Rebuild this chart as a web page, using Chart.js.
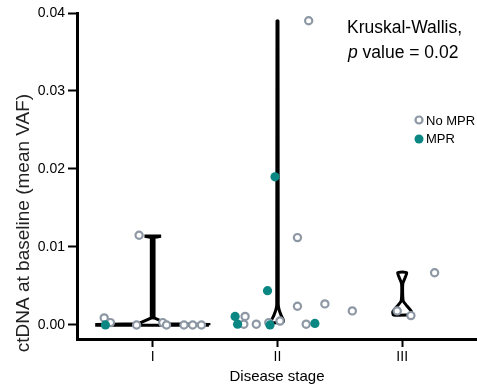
<!DOCTYPE html>
<html>
<head>
<meta charset="utf-8">
<script src="https://cdn.jsdelivr.net/npm/chart.js@4.4.1/dist/chart.umd.min.js"></script>
<style>
  html, body { margin: 0; padding: 0; background: #fff; }
  #wrap { width: 477px; height: 387px; }
</style>
</head>
<body>
<div id="wrap"><canvas id="chart"></canvas></div>
<script>
// categories and tick labels
const stages = ["I", "II", "III"];
const stagePos = [1, 2, 3];
const yTicks = [0, 0.01, 0.02, 0.03, 0.04];

// points: jittered position on the stage axis, mean VAF
const noMprX = [0.61, 0.66, 0.87, 0.89, 1.08, 1.11, 1.25, 1.32, 1.39,
                1.74, 1.73, 1.83, 1.93, 2.02, 2.16, 2.16, 2.23, 2.25, 2.38, 2.60,
                2.96, 3.07, 3.26];
const noMprY = [0.0009, 0.0003, 0.0, 0.0115, 0.0003, 0.0, 0.0, 0.0, 0.0,
                0.0011, 0.0001, 0.0001, 0.0003, 0.0005, 0.0112, 0.0024, 0.0001, 0.039, 0.0027, 0.0018,
                0.0018, 0.0012, 0.0067];
const mprX = [0.62, 1.66, 1.68, 1.92, 1.94, 1.98, 2.30];
const mprY = [0.0, 0.0011, 0.0001, 0.0044, 0.0, 0.019, 0.0002];

// violin outlines: y level and half width (stage units)
const violinY = [
  [-0.00005, 0.00005, 0.00015, 0.0005, 0.0009, 0.0112, 0.01135, 0.0114],
  [0.0003, 0.0006, 0.0012, 0.0020, 0.0027, 0.0390],
  [0.00128, 0.0017, 0.0024, 0.0031, 0.0053, 0.0067]
];
const violinHW = [
  [0.45, 0.45, 0.12, 0.07, 0.012, 0.01, 0.055, 0.055],
  [0.045, 0.048, 0.030, 0.012, 0.006, 0.004],
  [0.070, 0.075, 0.040, 0.008, 0.005, 0.036]
];

const grayCol = "#8d98a4";
const tealCol = "#0a8783";
const fontFam = "'Liberation Sans', Arial, sans-serif";

function toPts(xs, ys) {
  return xs.map((x, i) => ({x: x, y: ys[i]}));
}

function violinOutline(k) {
  const c = stagePos[k], ys = violinY[k], hw = violinHW[k];
  const pts = [];
  for (let i = 0; i < ys.length; i++) pts.push({x: c + hw[i], y: ys[i]});
  for (let i = ys.length - 1; i >= 0; i--) pts.push({x: c - hw[i], y: ys[i]});
  pts.push({x: c + hw[0], y: ys[0]});
  return pts;
}

const violinSets = stagePos.map((p, k) => ({
  label: "violin " + stages[k],
  data: violinOutline(k),
  showLine: true,
  borderColor: "#000",
  borderWidth: 3,
  pointRadius: 0,
  tension: k === 0 ? 0 : 0.2,
  fill: false
}));

// legend, annotation and y title
const extras = {
  id: "extras",
  afterDraw(chart) {
    const ctx = chart.ctx;
    ctx.save();
    ctx.fillStyle = "#000";
    ctx.textBaseline = "middle";
    ctx.textAlign = "left";
    ctx.font = "17.5px " + fontFam;
    ctx.fillText("Kruskal-Wallis,", 347, 28);
    ctx.font = "italic 17.5px " + fontFam;
    ctx.fillText("p", 348, 53);
    const pw = ctx.measureText("p ").width;
    ctx.font = "17.5px " + fontFam;
    ctx.fillText("value = 0.02", 348 + pw, 53);

    // legend
    ctx.font = "13px " + fontFam;
    ctx.beginPath();
    ctx.arc(419, 120, 3.5, 0, Math.PI * 2);
    ctx.fillStyle = "#fff";
    ctx.fill();
    ctx.lineWidth = 2.2;
    ctx.strokeStyle = grayCol;
    ctx.stroke();
    ctx.beginPath();
    ctx.arc(419, 139, 4.5, 0, Math.PI * 2);
    ctx.fillStyle = tealCol;
    ctx.fill();
    ctx.fillStyle = "#000";
    ctx.fillText("No MPR", 426, 121);
    ctx.fillText("MPR", 426, 139);

    // y axis title
    ctx.translate(24, 223);
    ctx.rotate(-Math.PI / 2);
    ctx.textAlign = "center";
    ctx.fillStyle = "#222";
    ctx.font = "19px " + fontFam;
    ctx.fillText("ctDNA at baseline (mean VAF)", 0, 0);
    ctx.restore();
  }
};

new Chart(document.getElementById("chart"), {
  type: "scatter",
  data: {
    datasets: [
      {
        label: "MPR",
        data: toPts(mprX, mprY),
        pointRadius: 4.6,
        pointBackgroundColor: tealCol,
        pointBorderWidth: 0
      },
      {
        label: "No MPR",
        data: toPts(noMprX, noMprY),
        pointRadius: 3.6,
        pointBackgroundColor: "#fff",
        pointBorderColor: grayCol,
        pointBorderWidth: 2.2
      },
      ...violinSets
    ]
  },
  options: {
    responsive: true,
    maintainAspectRatio: false,
    animation: false,
    layout: { autoPadding: false, padding: { top: 13, right: 0, left: 0, bottom: 0 } },
    plugins: { legend: { display: false }, tooltip: { enabled: false } },
    scales: {
      x: {
        type: "linear",
        min: 0.392,
        max: 3.6,
        afterBuildTicks: s => { s.ticks = stagePos.map(v => ({value: v})); },
        afterFit: s => { s.height = 48; },
        ticks: {
          callback: v => stages[stagePos.indexOf(v)] || "",
          color: "#000",
          font: { size: 14, family: fontFam },
          padding: 2
        },
        grid: { drawOnChartArea: false, tickLength: 8, tickWidth: 2, tickColor: "#000" },
        border: { color: "#000", width: 3 },
        title: {
          display: true,
          text: "Disease stage",
          color: "#000",
          font: { size: 15, family: fontFam },
          padding: { top: 0, bottom: 1 }
        }
      },
      y: {
        min: -0.0018,
        max: 0.04,
        afterBuildTicks: s => { s.ticks = yTicks.map(v => ({value: v})); },
        afterFit: s => { s.width = 77; },
        ticks: {
          callback: v => v.toFixed(2),
          color: "#000",
          font: { size: 14, family: fontFam },
          padding: 3
        },
        grid: { drawOnChartArea: false, tickLength: 9, tickWidth: 2, tickColor: "#000" },
        border: { color: "#000", width: 3 }
      }
    }
  },
  plugins: [extras]
});
</script>
</body>
</html>
